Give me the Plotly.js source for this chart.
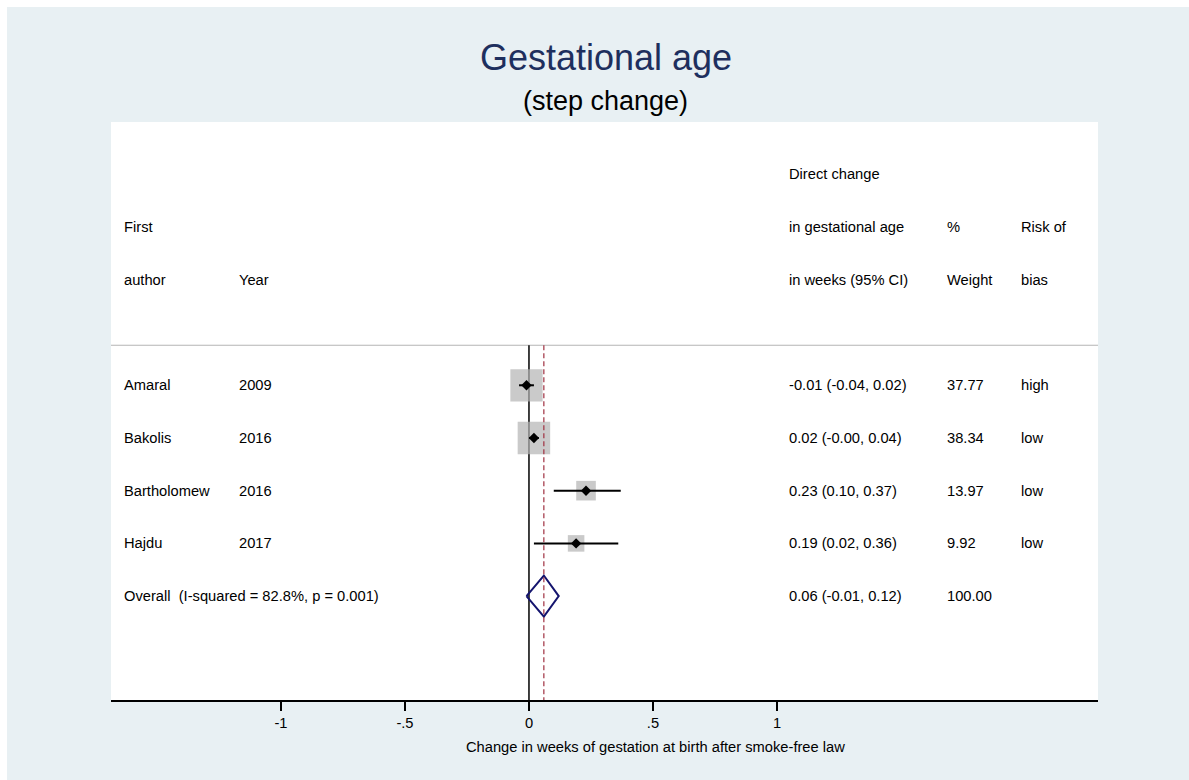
<!DOCTYPE html>
<html>
<head>
<meta charset="utf-8">
<script src="https://cdn.plot.ly/plotly-3.0.1.min.js"></script>
<style>
  html, body { margin: 0; padding: 0; background: #ffffff; }
  #chart { position: absolute; left: 7px; top: 7px; width: 1182px; height: 773px; }
</style>
</head>
<body>
<div id="chart"></div>
<script>
// ---- Data ----
const authors = ["Amaral", "Bakolis", "Bartholomew", "Hajdu"];
const years = ["2009", "2016", "2016", "2017"];
const estimates = [-0.01, 0.02, 0.23, 0.19];
const lowerCI = [-0.04, -0.00, 0.10, 0.02];
const upperCI = [0.02, 0.04, 0.37, 0.36];
const weights = [37.77, 38.34, 13.97, 9.92];
const riskOfBias = ["high", "low", "low", "low"];
const effectLabels = ["-0.01 (-0.04, 0.02)", "0.02 (-0.00, 0.04)", "0.23 (0.10, 0.37)", "0.19 (0.02, 0.36)"];
const weightLabels = ["37.77", "38.34", "13.97", "9.92"];
const overallLabel = "Overall  (I-squared = 82.8%, p = 0.001)";
const overallEstimate = 0.06;
const overallLower = -0.01;
const overallUpper = 0.12;
const overallEffectLabel = "0.06 (-0.01, 0.12)";
const overallWeightLabel = "100.00";
const tickValues = [-1, -0.5, 0, 0.5, 1];
const tickLabels = ["-1", "-.5", "0", ".5", "1"];

// ---- Layout helpers (positions) ----
const FONT = "Liberation Sans, Arial, sans-serif";
const FS = 14.7;
const studyRows = authors.map((_, i) => 4 + i);
const overallRow = 4 + authors.length;
const yTop = -0.996, yBottom = 9.972;
const sepRow = 3.24;
const colAuthor = -1.640, colYear = -1.178, colEffect = 1.040, colWeight = 1.678, colRisk = 1.976;

const traces = [];
// Weight boxes
traces.push({
  type: "scatter", mode: "markers",
  x: estimates, y: studyRows,
  marker: { symbol: "square", size: weights.map(w => 5.25 * Math.sqrt(w)), color: "#b4b4b4", line: { width: 0 } },
  hoverinfo: "skip", showlegend: false
});
// CI lines
const ciX = [], ciY = [];
estimates.forEach((_, i) => { ciX.push(lowerCI[i], upperCI[i], null); ciY.push(studyRows[i], studyRows[i], null); });
traces.push({
  type: "scatter", mode: "lines", x: ciX, y: ciY,
  line: { color: "#000000", width: 2 }, hoverinfo: "skip", showlegend: false
});
// Point estimates
traces.push({
  type: "scatter", mode: "markers", x: estimates, y: studyRows,
  marker: { symbol: "diamond", size: 8, color: "#000000" },
  hoverinfo: "skip", showlegend: false
});
// Overall diamond
const dh = 0.39;
traces.push({
  type: "scatter", mode: "lines",
  x: [overallLower, overallEstimate, overallUpper, overallEstimate, overallLower],
  y: [overallRow, overallRow - dh, overallRow, overallRow + dh, overallRow],
  line: { color: "#14146e", width: 2 }, hoverinfo: "skip", showlegend: false
});

// ---- Annotations (table text) ----
const ann = [];
function txt(x, y, t) {
  ann.push({ x: x, y: y, xref: "x", yref: "y", text: t, showarrow: false,
    xanchor: "left", yanchor: "middle", font: { family: FONT, size: FS, color: "#000000" } });
}
txt(colEffect, 0, "Direct change");
txt(colAuthor, 1, "First");
txt(colEffect, 1, "in gestational age");
txt(colWeight, 1, "%");
txt(colRisk, 1, "Risk of");
txt(colAuthor, 2, "author");
txt(colYear, 2, "Year");
txt(colEffect, 2, "in weeks (95% CI)");
txt(colWeight, 2, "Weight");
txt(colRisk, 2, "bias");
authors.forEach((a, i) => {
  txt(colAuthor, studyRows[i], a);
  txt(colYear, studyRows[i], years[i]);
  txt(colEffect, studyRows[i], effectLabels[i]);
  txt(colWeight, studyRows[i], weightLabels[i]);
  txt(colRisk, studyRows[i], riskOfBias[i]);
});
txt(colAuthor, overallRow, overallLabel);
txt(colEffect, overallRow, overallEffectLabel);
txt(colWeight, overallRow, overallWeightLabel);

// subtitle
ann.push({ x: 0.5015, y: 1.037, xref: "paper", yref: "paper", text: "(step change)", showarrow: false,
  xanchor: "center", yanchor: "middle", font: { family: FONT, size: 27, color: "#000000" } });
// x-axis title
ann.push({ x: 0.5512, y: -0.0813, xref: "paper", yref: "paper",
  text: "Change in weeks of gestation at birth after smoke-free law", showarrow: false,
  xanchor: "center", yanchor: "middle", font: { family: FONT, size: FS, color: "#000000" } });

// ---- Shapes ----
const shapes = [
  { type: "line", xref: "paper", yref: "y", x0: 0, x1: 1, y0: sepRow, y1: sepRow,
    line: { color: "#b4b4b4", width: 1.2 }, layer: "below" },
  { type: "line", xref: "x", yref: "y", x0: 0, x1: 0, y0: sepRow, y1: yBottom,
    line: { color: "#000000", width: 1.5 }, layer: "below" },
  { type: "line", xref: "x", yref: "y", x0: overallEstimate, x1: overallEstimate, y0: sepRow, y1: yBottom,
    line: { color: "#a03040", width: 1.2, dash: "5px,3px" }, layer: "above" }
];

const layout = {
  width: 1182, height: 773,
  margin: { l: 104, r: 91, t: 115, b: 80 },
  paper_bgcolor: "#e8f0f3",
  plot_bgcolor: "#ffffff",
  title: {
    text: "Gestational age",
    font: { family: FONT, size: 36, color: "#1e2f5e" },
    x: 0.5068, xref: "container", xanchor: "center",
    y: 0.935, yref: "container", yanchor: "middle"
  },
  xaxis: {
    range: [-1.685, 2.294],
    tickvals: tickValues, ticktext: tickLabels,
    ticks: "outside", ticklen: 9, tickwidth: 1.5, tickcolor: "#000000",
    showline: true, linecolor: "#000000", linewidth: 1.5,
    showgrid: false, zeroline: false,
    tickfont: { family: FONT, size: FS, color: "#000000" },
    fixedrange: true
  },
  yaxis: {
    range: [yBottom, yTop],
    showticklabels: false, showgrid: false, zeroline: false, showline: false, ticks: "",
    fixedrange: true
  },
  shapes: shapes,
  annotations: ann,
  showlegend: false
};

Plotly.newPlot("chart", traces, layout, { displayModeBar: false, staticPlot: true });
</script>
</body>
</html>
